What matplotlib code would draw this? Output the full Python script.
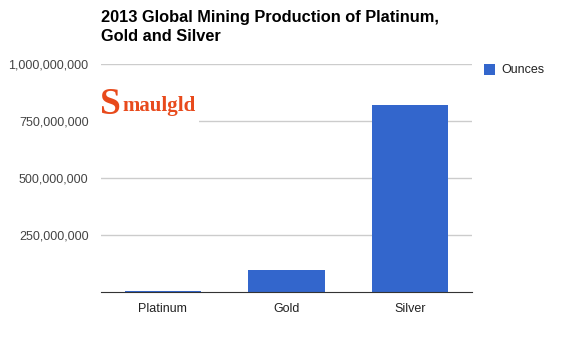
import numpy as np
import matplotlib.pyplot as plt
from matplotlib.ticker import FuncFormatter
from matplotlib.patches import Rectangle

metals = ['Platinum', 'Gold', 'Silver']
ounces = [5800000, 96500000, 820000000]
y_ticks = [250000000, 500000000, 750000000, 1000000000]

plt.rcParams['font.family'] = ['Liberation Sans', 'DejaVu Sans']

W, H = 579, 339
fig = plt.figure(figsize=(W / 100, H / 100), dpi=100)
ax = fig.add_axes([101 / W, 1 - 292 / H, 371 / W, 228 / H])

x = np.arange(len(metals))
ax.bar(x, ounces, width=0.615, color='#3366cc', zorder=3)
ax.set_xlim(-0.5, 2.5)
ax.set_ylim(0, 1000000000)
ax.set_yticks(y_ticks)
ax.yaxis.set_major_formatter(FuncFormatter(lambda v, p: '{:,.0f}'.format(v)))
ax.set_xticks(x)
ax.set_xticklabels(metals)
ax.grid(axis='y', color='#cccccc', linewidth=1, zorder=0)
ax.tick_params(axis='both', length=0, labelsize=9, colors='#444444')
ax.tick_params(axis='x', pad=8, colors='#222222')
ax.tick_params(axis='y', pad=9)
for s in ['top', 'right', 'left']:
    ax.spines[s].set_visible(False)
ax.spines['bottom'].set_color('#333333')
ax.spines['bottom'].set_zorder(4)

fig.text(101 / W, 1 - 10 / H, '2013 Global Mining Production of Platinum,\nGold and Silver',
         fontsize=11.8, fontweight='bold', va='top', ha='left', linespacing=1.35)

# logo
logo_bg = Rectangle((99 / W, 1 - 124 / H), 100 / W, 40 / H, transform=fig.transFigure,
                    facecolor='white', edgecolor='none', zorder=5)
fig.patches.append(logo_bg)
fig.text(100 / W, 1 - 105 / H, 'S', fontsize=27, fontweight='bold', family='Liberation Serif',
         color='#e84a1c', va='center', ha='left', zorder=6)
fig.text(122 / W, 1 - 106 / H, 'maulgld', fontsize=15, fontweight='bold', family='Liberation Serif',
         color='#e84a1c', va='center', ha='left', zorder=6)

# legend
fig.patches.append(Rectangle((484 / W, 1 - 75 / H), 11 / W, 11 / H, transform=fig.transFigure,
                             facecolor='#3366cc', edgecolor='none'))
fig.text(501 / W, 1 - 70 / H, 'Ounces', fontsize=9, color='#222222', va='center', ha='left')

fig.savefig('out.png', dpi=100, facecolor='white')
